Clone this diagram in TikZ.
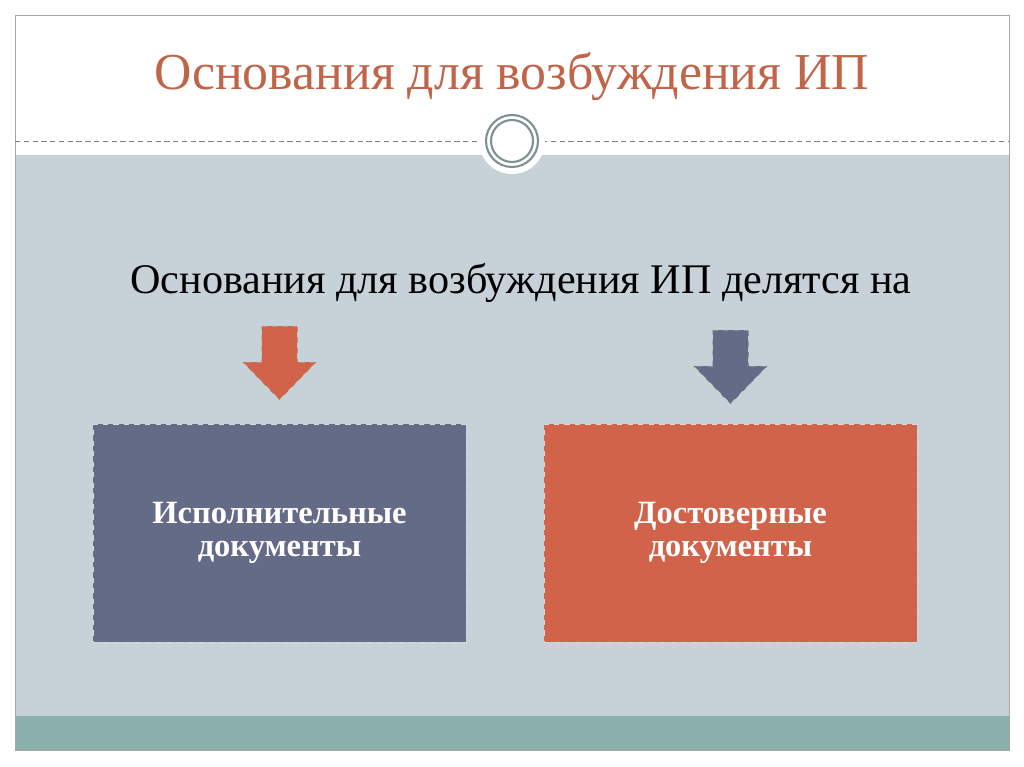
\documentclass[tikz,border=0pt]{standalone}
\usepackage{fontspec}
\setmainfont{Liberation Serif}
\definecolor{titlered}{HTML}{C0654A}
\definecolor{paleblue}{HTML}{C6D2D7}
\definecolor{tealband}{HTML}{8BAFAB}
\definecolor{slateblue}{HTML}{636B86}
\definecolor{brick}{HTML}{D0634A}
\definecolor{ringgray}{HTML}{7C9290}
\tikzset{
  docbox/.style={draw=white!70!gray, dashed, minimum width=7.46cm, minimum height=4.36cm,
    text=white, font=\bfseries\fontsize{18.5}{19}\selectfont, align=center},
  downarrow/.style={draw=white!60!gray, dashed}
}
\newcommand{\dnarrow}[3]{% x, top y, colour
  \filldraw[downarrow, fill=#3] (#1-18,#2) -- (#1+18,#2) -- (#1+18,#2+36) -- (#1+37,#2+36)
    -- (#1,#2+74) -- (#1-37,#2+36) -- (#1-18,#2+36) -- cycle;}
\begin{document}
\begin{tikzpicture}[x=0.02cm,y=-0.02cm]
\useasboundingbox (0,0) rectangle (1024,767);
\fill[white] (0,0) rectangle (1024,767);
\fill[paleblue] (15,155) rectangle (1009,716);
\fill[tealband] (15,716) rectangle (1009,750);
\draw[gray!70] (15,15) rectangle (1009,750);
\draw[gray, densely dashed] (15,141) -- (1009,141);
\fill[white] (512,141) circle[radius=0.66cm];
\draw[ringgray, line width=1.2pt] (512,141) circle[radius=0.52cm];
\draw[ringgray, line width=1.2pt] (512,141) circle[radius=0.42cm];
\node[text=titlered, font=\fontsize{29.5}{32}\selectfont] (title) at (512,77) {Основания для возбуждения ИП};
\node[font=\fontsize{24}{28}\selectfont] (lead) at (521,283) {Основания для возбуждения ИП делятся на};
\dnarrow{279.5}{326}{brick}
\dnarrow{730.5}{330}{slateblue}
\node[docbox, fill=slateblue] (exec) at (279.5,533) {Исполнительные\\документы};
\node[docbox, fill=brick] (trust) at (730.5,533) {Достоверные\\документы};
\end{tikzpicture}
\end{document}
